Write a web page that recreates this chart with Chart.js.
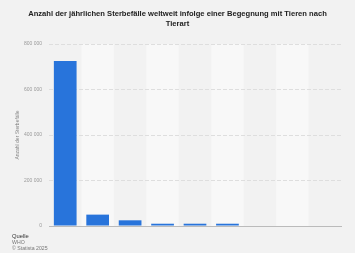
<!DOCTYPE html>
<html><head><meta charset="utf-8">
<script src="https://cdn.jsdelivr.net/npm/chart.js@4"></script>
<style>
html,body{margin:0;padding:0;background:#f2f2f2;}
#wrap{position:relative;width:355px;height:253px;}
#title{position:absolute;left:0;top:9px;width:355px;text-align:center;font:bold 7.6px "Liberation Sans",Arial,sans-serif;color:#222;line-height:10px;}
#src{position:absolute;left:12px;top:233px;font:5.2px "Liberation Sans",Arial,sans-serif;color:#777;line-height:6.2px;}
#src b{color:#333;font-weight:normal;font-size:5.8px;}
canvas{position:absolute;left:0;top:0;}
</style></head><body>
<div id="wrap">
<canvas id="c" width="355" height="253"></canvas>
<div id="title">Anzahl der jährlichen Sterbefälle weltweit infolge einer Begegnung mit Tieren nach<br>Tierart</div>
<div id="src"><b>Quelle</b><br>WHO<br>© Statista 2025</div>
</div>
<script>
const categories = ["Stechmücke","Schlange","Hund","Tsetsefliege","Raubwanze","Süßwasserschnecke","Elefant","Löwe","Wolf"];
const deaths = [725000, 50000, 25000, 10000, 10000, 10000, 0, 0, 0];
const yTicks = [0, 200000, 400000, 600000, 800000];
const yTitle = "Anzahl der Sterbefälle";

const bands = {
  id:'bands',
  beforeDraw(chart){
    const {ctx, chartArea:a, scales:{x}} = chart;
    ctx.save();
    ctx.fillStyle = '#f8f8f8';
    categories.forEach((c,i)=>{
      if(i%2===1){
        const l = x.getPixelForValue(i-0.5), r = x.getPixelForValue(i+0.5);
        ctx.fillRect(l, a.top, r-l, a.bottom-a.top);
      }
    });
    ctx.restore();
  }
};

new Chart(document.getElementById('c'), {
  type:'bar',
  data:{labels:categories, datasets:[{data:deaths, backgroundColor:'#2874db', barPercentage:0.7, categoryPercentage:1}]},
  options:{
    responsive:false, animation:false,
    layout:{padding:{top:44, right:14, bottom:19, left:15}},
    plugins:{legend:{display:false}, tooltip:{enabled:false}, title:{display:false}},
    scales:{
      x:{ticks:{display:false}, grid:{display:false}, border:{display:true,color:'#bbbbbb',width:1}},
      y:{min:0,max:800000,
        afterBuildTicks(s){ s.ticks = yTicks.map(v=>({value:v})); },
        afterFit(s){ s.width = 34; },
        ticks:{padding:7, color:'#999', font:{size:5, family:'"Liberation Sans",Arial'},
          callback:v=> v===0 ? '0' : v.toLocaleString('en-US').replace(/,/g,' ')},
        grid:{color:'#dedede', drawTicks:false, tickLength:0},
        border:{display:false, dash:[4,2]},
        title:{display:true, text:yTitle, color:'#888', font:{size:5, family:'"Liberation Sans",Arial'}, padding:{top:0,bottom:0}}
      }
    }
  },
  plugins:[bands]
});
</script>
</body></html>
